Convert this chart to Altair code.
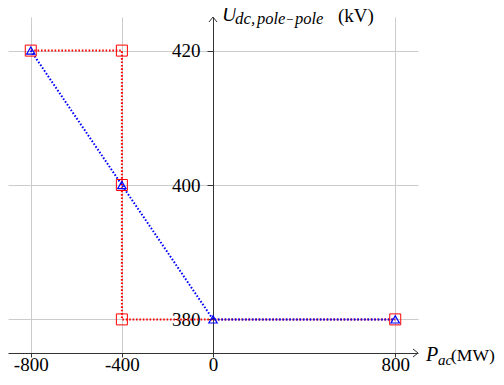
import altair as alt
import pandas as pd

# ---- data ----
red_x = [-800, -400, -400, -400, 800]
red_y = [420, 420, 400, 380, 380]
blue_x = [-800, -400, 0, 800]
blue_y = [420, 400, 380, 380]
x_ticks = [-800, -400, 0, 800]
y_ticks = [380, 400, 420]
x_domain = [-900, 900]
y_domain = [375, 425]

red = pd.DataFrame({"x": red_x, "y": red_y, "i": list(range(len(red_x)))})
blue = pd.DataFrame({"x": blue_x, "y": blue_y, "i": list(range(len(blue_x)))})
y_tip = pd.DataFrame({"x": [0], "y": [y_domain[1]]})
x_tip = pd.DataFrame({"x": [x_domain[1]], "y": [y_domain[0]]})

FONT = "Liberation Serif"
AX = "#333333"
GRID = "#cccccc"
FS = 19
SUB = 15

X = alt.X("x:Q",
          scale=alt.Scale(domain=x_domain, nice=False, zero=False),
          axis=alt.Axis(values=x_ticks, title=None, grid=True, gridColor=GRID,
                        gridWidth=1, domainColor=AX, domainWidth=1,
                        tickColor=AX, tickSize=4, labelPadding=-2,
                        labelFont=FONT, labelFontSize=FS, labelColor="black",
                        labelExpr="'' + datum.value"))
Y = alt.Y("y:Q",
          scale=alt.Scale(domain=y_domain, nice=False, zero=False),
          axis=alt.Axis(values=y_ticks, title=None, grid=True, gridColor=GRID,
                        gridWidth=1, domainColor=AX, domainWidth=1,
                        tickColor=AX, tickSize=6, labelPadding=7, offset=-205,
                        labelFont=FONT, labelFontSize=FS, labelColor="black",
                        labelExpr="'' + datum.value"))

dash = [1.6, 1.8]
red_line = alt.Chart(red).mark_line(color="#ff0000", strokeWidth=2, strokeDash=dash).encode(x=X, y=Y, order="i:Q")
blue_line = alt.Chart(blue).mark_line(color="#0000ff", strokeWidth=2, strokeDash=dash).encode(x=X, y=Y, order="i:Q")
red_pts = alt.Chart(red).mark_point(shape="square", filled=False, size=121, color="#ff0000", strokeWidth=1, opacity=1).encode(x=X, y=Y)
blue_pts = alt.Chart(blue).mark_point(shape="triangle-up", filled=False, size=70, color="#0000ff", strokeWidth=1.2, opacity=1).encode(x=X, y=Y)

up_arrow = alt.Chart(y_tip).mark_point(shape="M -0.8 1 L 0 0 L 0.8 1", filled=False, size=100, color=AX, strokeWidth=1, opacity=1).encode(x=X, y=Y)
right_arrow = alt.Chart(x_tip).mark_point(shape="M -1 -0.8 L 0 0 L -1 0.8", filled=False, size=100, color=AX, strokeWidth=1, opacity=1).encode(x=X, y=Y)

def label(df, text, dx, dy, size, style="normal"):
    return alt.Chart(df).mark_text(text=text, align="left", baseline="alphabetic",
                                   dx=dx, dy=dy, font=FONT, fontSize=size,
                                   fontStyle=style, color="black").encode(x=X, y=Y)

y_title = [
    label(y_tip, "U", 9, 4, FS + 1, "italic"),
    label(y_tip, "dc,", 22, 7, 17, "italic"),
    label(y_tip, "pole", 44, 7, 16.5, "italic"),
    label(y_tip, "\u2212", 73, 7, 13, "normal"),
    label(y_tip, "pole", 82, 7, 16.5, "italic"),
    label(y_tip, "(kV)", 125, 5, FS),
]
x_title = [
    label(x_tip, "P", 8, 8, FS + 1, "italic"),
    label(x_tip, "ac", 20, 12, SUB, "italic"),
    label(x_tip, "(MW)", 33, 8, 17.5),
]

chart = alt.layer(red_line, blue_line, red_pts, blue_pts, up_arrow, right_arrow,
                  *y_title, *x_title).properties(
    width=410, height=336,
    autosize=alt.AutoSizeParams(type="none"),
    padding={"left": 0, "top": 9, "right": 78, "bottom": 20},
).configure_view(stroke=None)

chart.save("out.html", embed_options={"renderer": "svg", "actions": False})
